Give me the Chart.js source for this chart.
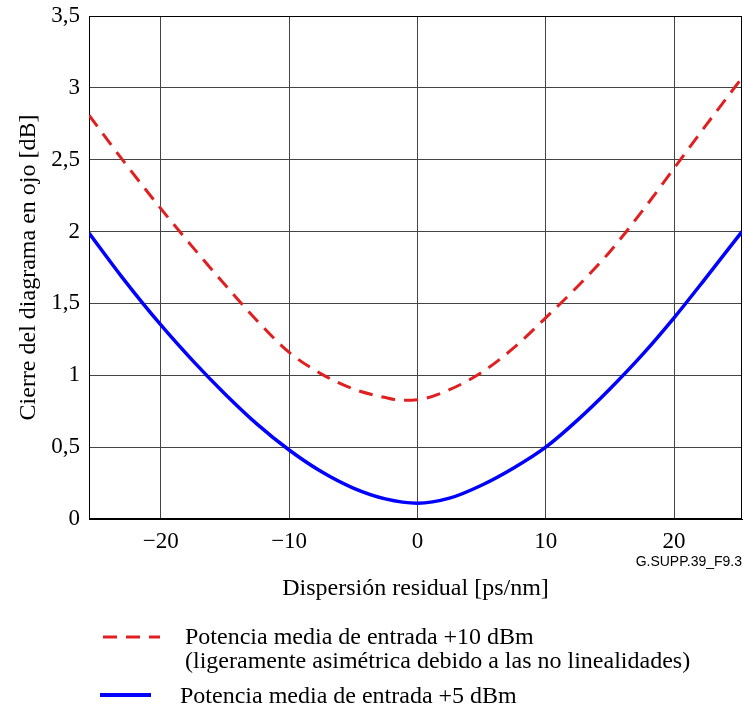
<!DOCTYPE html>
<html>
<head>
<meta charset="utf-8">
<script src="https://cdn.jsdelivr.net/npm/chart.js@4/dist/chart.umd.min.js"></script>
<style>
  body { margin: 0; background: #fff; }
  canvas { display: block; }
</style>
</head>
<body>
<canvas id="grafico" width="744" height="708"></canvas>
<script>
const xRojo = [-25.6, -23, -20, -17.5, -15, -12.5, -10, -7.5, -5, -2.5, -1.2, 0, 2.5, 5, 7.5, 10, 12.5, 15, 17.5, 20, 22.5, 25.3],
  yRojo = [2.81, 2.5, 2.16, 1.89, 1.63, 1.38, 1.16, 1.01, 0.905, 0.845, 0.826, 0.83, 0.9, 1.02, 1.19, 1.4, 1.62, 1.86, 2.14, 2.44, 2.74, 3.07],
  xAzul = [-25.6, -23, -20, -17.5, -15, -12.5, -10, -7.5, -5, -2.5, 0, 2.5, 5, 7.5, 10, 12.5, 15, 17.5, 20, 22.5, 25.3],
  yAzul = [1.99, 1.68, 1.35, 1.1, 0.87, 0.66, 0.48, 0.33, 0.215, 0.14, 0.11, 0.145, 0.235, 0.355, 0.5, 0.69, 0.905, 1.14, 1.4, 1.68, 2.0],
  etiquetas = [
    "Potencia media de entrada +10 dBm",
    "(ligeramente asimétrica debido a las no linealidades)",
    "Potencia media de entrada +5 dBm",
  ];

const fuente = "'Liberation Serif', 'Times New Roman', serif";
const punti = (xs, ys) => xs.map((x, i) => ({ x: x, y: ys[i] }));

const marco = {
  id: "marco",
  beforeDatasetsDraw(chart) {
    const { ctx, chartArea: a } = chart;
    ctx.save();
    ctx.strokeStyle = "#000";
    ctx.lineWidth = 1;
    ctx.strokeRect(a.left + 0.5, a.top + 0.5, a.right - a.left - 1, a.bottom - a.top - 1);
    ctx.restore();
  },
  afterDraw(chart) {
    const ctx = chart.ctx;
    ctx.save();
    // codigo de figura
    ctx.fillStyle = "#000";
    ctx.font = "14px 'Liberation Sans', Arial, sans-serif";
    ctx.textAlign = "right";
    ctx.textBaseline = "middle";
    ctx.fillText("G.SUPP.39_F9.3", 742, 562);
    // leyenda
    ctx.lineWidth = 3;
    ctx.strokeStyle = "#e02020";
    ctx.setLineDash([14, 9]);
    ctx.beginPath();
    ctx.moveTo(103, 637);
    ctx.lineTo(160, 637);
    ctx.stroke();
    ctx.setLineDash([]);
    ctx.lineWidth = 4;
    ctx.strokeStyle = "#0000ff";
    ctx.beginPath();
    ctx.moveTo(100, 695);
    ctx.lineTo(151, 695);
    ctx.stroke();
    ctx.font = "24px " + fuente;
    ctx.textAlign = "left";
    ctx.fillText(etiquetas[0], 185, 638);
    ctx.fillText(etiquetas[1], 185, 662);
    ctx.fillText(etiquetas[2], 180, 697);
    ctx.restore();
  },
};

new Chart(document.getElementById("grafico").getContext("2d"), {
  type: "line",
  data: {
    datasets: [
      {
        label: etiquetas[0],
        data: punti(xRojo, yRojo),
        borderColor: "#e02020",
        borderWidth: 3,
        borderDash: [14, 9],
        pointRadius: 0,
        cubicInterpolationMode: "monotone",
      },
      {
        label: etiquetas[2],
        data: punti(xAzul, yAzul),
        borderColor: "#0000ff",
        borderWidth: 3.5,
        pointRadius: 0,
        cubicInterpolationMode: "monotone",
      },
    ],
  },
  options: {
    responsive: false,
    animation: false,
    layout: { padding: { left: 0, right: 2, top: 16, bottom: 105 } },
    plugins: { legend: { display: false }, tooltip: { enabled: false } },
    scales: {
      x: {
        type: "linear",
        min: -25.6,
        max: 25.3,
        afterFit: (s) => { s.height = 84; },
        ticks: {
          stepSize: 10,
          includeBounds: false,
          padding: 9,
          color: "#000",
          font: { family: fuente, size: 23 },
          callback: (v) => String(v).replace("-", "\u2212"),
        },
        grid: { color: "#444", lineWidth: 1, drawTicks: false },
        border: { color: "#000", width: 1 },
        title: {
          display: true,
          text: "Dispersión residual [ps/nm]",
          color: "#000",
          font: { family: fuente, size: 24 },
          padding: { top: 0, bottom: 0 },
        },
      },
      y: {
        min: 0,
        max: 3.5,
        afterFit: (s) => { s.width = 89; s.paddingTop = 0; s.paddingBottom = 0; },
        ticks: {
          stepSize: 0.5,
          padding: 9,
          color: "#000",
          font: { family: fuente, size: 23 },
          callback: (v) => String(v).replace(".", ","),
        },
        grid: { color: "#444", lineWidth: 1, drawTicks: false },
        border: { color: "#000", width: 1 },
        title: {
          display: true,
          text: "Cierre del diagrama en ojo [dB]",
          color: "#000",
          font: { family: fuente, size: 24 },
          padding: { top: 14, bottom: 0 },
        },
      },
    },
  },
  plugins: [marco],
});
</script>
</body>
</html>
